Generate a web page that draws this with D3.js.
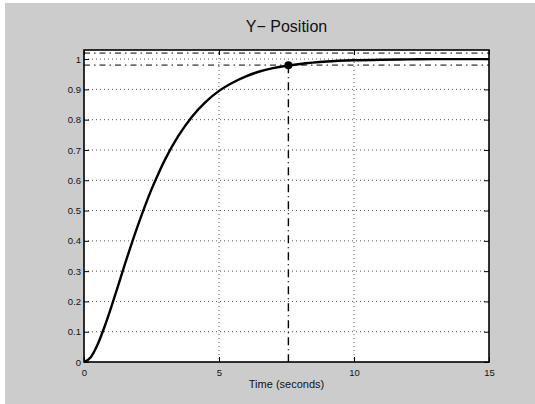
<!DOCTYPE html>
<html>
<head>
<meta charset="utf-8">
<script src="https://cdn.jsdelivr.net/npm/d3@7"></script>
<style>
  body { margin: 0; background: #fff; }
  text { font-family: "Liberation Sans", Arial, sans-serif; fill: #111; }
</style>
</head>
<body>
<div id="chart"></div>
<script>
// step response
const timeValues = [0, 0.25, 0.5, 0.75, 1, 1.25, 1.5, 1.75, 2, 2.25, 2.5, 2.75, 3, 3.5, 4, 4.5, 5, 5.5, 6, 6.5, 7, 7.5, 8, 9, 10, 11, 12, 13, 14, 15];
const positionValues = [0, 0.016, 0.057, 0.114, 0.179, 0.248, 0.319, 0.387, 0.452, 0.513, 0.57, 0.621, 0.668, 0.747, 0.81, 0.858, 0.895, 0.922, 0.943, 0.959, 0.97, 0.978, 0.984, 0.992, 0.996, 0.998, 0.999, 1.0, 1.0, 1.0];
const xTicks = [0, 5, 10, 15];
const yTicks = [0, 0.1, 0.2, 0.3, 0.4, 0.5, 0.6, 0.7, 0.8, 0.9, 1];
const settleTime = 7.57;
const settleValue = 0.98;
const bandLimits = [1.02, 0.98];

const width = 535;
const height = 404;
const margin = { top: 50, right: 46, bottom: 42, left: 84 };
const innerW = width - margin.left - margin.right;
const innerH = height - margin.top - margin.bottom;

const data = timeValues.map((t, i) => ({ t: t, y: positionValues[i] }));

const svg = d3.select('#chart')
  .append('svg')
  .attr('width', width)
  .attr('height', height);

// figure background
svg.append('rect')
  .attr('x', 5).attr('y', 3)
  .attr('width', width - 5).attr('height', height - 3)
  .attr('fill', '#cccccc');

const xScale = d3.scaleLinear().domain([0, 15]).range([0, innerW]);
const yScale = d3.scaleLinear().domain([0, 1.03]).range([innerH, 0]);

const g = svg.append('g')
  .attr('transform', `translate(${margin.left}, ${margin.top})`);

g.append('rect')
  .attr('width', innerW).attr('height', innerH)
  .attr('fill', '#fff');

// dotted grid
g.selectAll('.gx')
  .data(xTicks.filter(d => d > 0 && d < 15))
  .enter().append('line')
  .attr('x1', d => xScale(d)).attr('x2', d => xScale(d))
  .attr('y1', 0).attr('y2', innerH)
  .attr('stroke', '#555').attr('stroke-width', 1)
  .attr('stroke-dasharray', '1,3');

g.selectAll('.gy')
  .data(yTicks.filter(d => d > 0))
  .enter().append('line')
  .attr('x1', 0).attr('x2', innerW)
  .attr('y1', d => yScale(d)).attr('y2', d => yScale(d))
  .attr('stroke', '#555').attr('stroke-width', 1)
  .attr('stroke-dasharray', '1,3');

// settling band
g.selectAll('.band')
  .data(bandLimits)
  .enter().append('line')
  .attr('x1', 0).attr('x2', innerW)
  .attr('y1', d => yScale(d)).attr('y2', d => yScale(d))
  .attr('stroke', '#6e6e6e').attr('stroke-width', 1.8)
  .attr('stroke-dasharray', '6,4,1.5,4');

// settling time marker line
g.append('line')
  .attr('x1', xScale(settleTime)).attr('x2', xScale(settleTime))
  .attr('y1', yScale(settleValue)).attr('y2', innerH)
  .attr('stroke', '#000').attr('stroke-width', 1.4)
  .attr('stroke-dasharray', '8,4,1,4');

// response curve
const line = d3.line()
  .x(d => xScale(d.t))
  .y(d => yScale(d.y))
  .curve(d3.curveMonotoneX);

g.append('path')
  .datum(data)
  .attr('fill', 'none')
  .attr('stroke', '#000')
  .attr('stroke-width', 2.4)
  .attr('d', line);

g.append('circle')
  .attr('cx', xScale(settleTime))
  .attr('cy', yScale(settleValue))
  .attr('r', 4)
  .attr('fill', '#000');

// axes, ticks pointing inward
g.append('g')
  .attr('transform', `translate(0, ${innerH})`)
  .call(d3.axisBottom(xScale).tickValues(xTicks).tickSizeInner(-5).tickSizeOuter(0).tickPadding(7));

g.append('g')
  .call(d3.axisLeft(yScale).tickValues(yTicks).tickSizeInner(-5).tickSizeOuter(0).tickPadding(3)
    .tickFormat(d3.format('~g')));

g.append('g')
  .call(d3.axisTop(xScale).tickValues(xTicks).tickSizeInner(-5).tickSizeOuter(0).tickFormat(''));

g.append('g')
  .attr('transform', `translate(${innerW}, 0)`)
  .call(d3.axisRight(yScale).tickValues(yTicks).tickSizeInner(-5).tickSizeOuter(0).tickFormat(''));

g.selectAll('.domain').remove();
g.selectAll('.tick line').attr('stroke', '#000');
g.selectAll('.tick text')
  .style('font-family', '"Liberation Sans", Arial, sans-serif')
  .style('font-size', '9.5px')
  .attr('fill', '#111');

// box
g.append('rect')
  .attr('width', innerW).attr('height', innerH)
  .attr('fill', 'none')
  .attr('stroke', '#000')
  .attr('stroke-width', 1.6);

// title and label
svg.append('text')
  .attr('x', margin.left + innerW / 2)
  .attr('y', 32)
  .attr('text-anchor', 'middle')
  .style('font-size', '16px')
  .text('Y− Position');

svg.append('text')
  .attr('x', margin.left + innerW / 2)
  .attr('y', 388)
  .attr('text-anchor', 'middle')
  .style('font-size', '11px')
  .text('Time (seconds)');
</script>
</body>
</html>
